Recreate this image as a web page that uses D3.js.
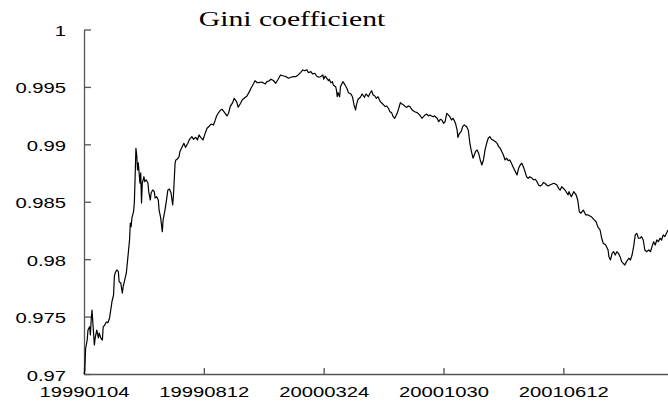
<!DOCTYPE html>
<html>
<head>
<meta charset="utf-8">
<script src="https://cdn.jsdelivr.net/npm/d3@7"></script>
<style>
  body { margin: 0; background: #fff; }
  svg { display: block; }
</style>
</head>
<body>
<svg></svg>
<script>
const size = {w: 668, h: 416};
const plot = {l: 84, r: 668, t: 29.5, b: 374};
const stretch = 1.35; // the original picture is stretched sideways

const title = 'Gini coefficient';

// x ticks: trading day index and its date label
const tickDays = [0, 150, 300, 450, 600];
const tickLabels = ['19990104', '19990812', '20000324', '20001030', '20010612'];
const yTicks = [0.97, 0.975, 0.98, 0.985, 0.99, 0.995, 1];
const lastDay = 731;

// [trading day, gini]
const giniSeries = [
  [0,0.9700],[1,0.9703],[2,0.9722],[4,0.97296],[5,0.97383],[7,0.97412],[8,0.9734],[9,0.9747],
  [10,0.97557],[13,0.97253],[14,0.97314],[16,0.97383],[18,0.97314],[19,0.97357],[21,0.97314],
  [23,0.97296],[24,0.97409],[26,0.97427],[28,0.97453],[30,0.97447],[32,0.97488],[33,0.97534],
  [35,0.9763],[37,0.97688],[38,0.97847],[39,0.9788],[41,0.97906],[43,0.97891],[44,0.97804],
  [46,0.97793],[48,0.97705],[49,0.9776],[51,0.97819],[53,0.9788],[55,0.98022],[57,0.98167],
  [58,0.98315],[59,0.98283],[60,0.98359],[62,0.98414],[63,0.98489],[64,0.98718],[65,0.98966],
  [66,0.98907],[67,0.98777],[68,0.98838],[70,0.98663],[71,0.98751],[72,0.98489],[73,0.98663],
  [75,0.98718],[76,0.98675],[78,0.9869],[80,0.98663],[81,0.98588],[83,0.98515],[84,0.98576],
  [86,0.98603],[88,0.98588],[89,0.98533],[91,0.98544],[93,0.98515],[94,0.98428],[96,0.98359],
  [98,0.98239],[99,0.98341],[101,0.98414],[103,0.98501],[105,0.98603],[107,0.98611],[109,0.98576],
  [111,0.98472],[112,0.98559],[114,0.98835],[115,0.98864],[117,0.98873],[119,0.98893],
  [120,0.98936],[122,0.98966],[125,0.99009],[127,0.98974],[130,0.99009],[132,0.99044],[135,0.99067],
  [137,0.99044],[140,0.99061],[142,0.99038],[144,0.99082],[146,0.99061],[149,0.99038],[151,0.99082],
  [154,0.9914],[157,0.9916],[159,0.99177],[162,0.99169],[164,0.99206],[166,0.99247],[168,0.99271],
  [171,0.99299],[173,0.99305],[176,0.99276],[179,0.99247],[181,0.99271],[183,0.99328],[186,0.99363],
  [188,0.99401],[191,0.99372],[193,0.99323],[196,0.99358],[198,0.99386],[202,0.9941],[204,0.99421],
  [207,0.99459],[209,0.99488],[212,0.99526],[214,0.99554],[217,0.99537],[219,0.99537],[222,0.99543],
  [224,0.99537],[227,0.99526],[229,0.99546],[232,0.99554],[234,0.99567],[237,0.99556],[240,0.99532],
  [243,0.99567],[246,0.99604],[250,0.99595],[253,0.99589],[256,0.99575],[259,0.99584],[262,0.99589],
  [265,0.99589],[268,0.99604],[271,0.99624],[274,0.99648],[276,0.99641],[279,0.99648],[281,0.99624],
  [284,0.99633],[286,0.99613],[289,0.99619],[291,0.99595],[294,0.99584],[296,0.99589],[299,0.99604],
  [300,0.99567],[302,0.99595],[304,0.99575],[306,0.99554],[307,0.99567],[309,0.99537],[311,0.99546],
  [312,0.99517],[315,0.99502],[316,0.99473],[317,0.99415],[318,0.9945],[320,0.99415],[321,0.99502],
  [324,0.99546],[326,0.99526],[329,0.99488],[331,0.9945],[334,0.99439],[336,0.99415],[338,0.99343],
  [340,0.99299],[341,0.99343],[343,0.99392],[346,0.9941],[348,0.99439],[351,0.9941],[353,0.99439],
  [356,0.99415],[358,0.99445],[360,0.99467],[362,0.9943],[364,0.99421],[366,0.99401],[368,0.99415],
  [371,0.99371],[373,0.99358],[375,0.99343],[377,0.99328],[379,0.99334],[381,0.99314],[383,0.99284],
  [385,0.99276],[387,0.99241],[389,0.99227],[392,0.9927],[394,0.99314],[396,0.99363],[398,0.99351],
  [400,0.99343],[402,0.99328],[404,0.99323],[406,0.99334],[408,0.99328],[410,0.99305],[412,0.99293],
  [414,0.99284],[417,0.99276],[419,0.99264],[421,0.99247],[423,0.99227],[425,0.99241],[427,0.99256],
  [429,0.99264],[431,0.99247],[433,0.99256],[435,0.99247],[437,0.99241],[439,0.99247],[442,0.99227],
  [444,0.99197],[446,0.99218],[448,0.99212],[450,0.99183],[452,0.99197],[454,0.9927],[456,0.99256],
  [458,0.99241],[460,0.99212],[462,0.99227],[465,0.99183],[467,0.99125],[468,0.99061],[470,0.99096],
  [472,0.9911],[474,0.99154],[476,0.99169],[479,0.99154],[481,0.99125],[483,0.99009],[485,0.98936],
  [487,0.98879],[490,0.98936],[492,0.98951],[494,0.98922],[496,0.98864],[498,0.9882],[500,0.98864],
  [502,0.98951],[504,0.99009],[506,0.99053],[508,0.99067],[510,0.99044],[512,0.99038],[515,0.99023],
  [517,0.99009],[519,0.9898],[521,0.98966],[523,0.98936],[525,0.98907],[527,0.98864],[529,0.98879],
  [531,0.98858],[533,0.98864],[535,0.98835],[537,0.98805],[540,0.98762],[542,0.98733],[544,0.98791],
  [546,0.9882],[548,0.98835],[550,0.98805],[552,0.98762],[554,0.98718],[556,0.98704],[558,0.98718],
  [561,0.98704],[563,0.9869],[565,0.98696],[567,0.98675],[569,0.98646],[571,0.98637],[573,0.98646],
  [575,0.98666],[577,0.98661],[579,0.98646],[581,0.98637],[583,0.98646],[586,0.98655],[588,0.98661],
  [590,0.98655],[592,0.98646],[594,0.98617],[596,0.98602],[598,0.98631],[602,0.98602],[606,0.98559],
  [607,0.98588],[610,0.98544],[613,0.98588],[616,0.98559],[618,0.98515],[620,0.98413],[622,0.984],
  [625,0.98428],[628,0.98385],[631,0.98385],[635,0.9837],[638,0.98347],[641,0.98326],[643,0.98283],
  [646,0.98254],[648,0.98182],[650,0.98138],[653,0.98123],[656,0.9808],[657,0.98022],[659,0.97993],
  [661,0.98051],[663,0.98065],[665,0.98036],[667,0.98065],[669,0.98051],[671,0.98022],[673,0.97978],
  [675,0.97964],[677,0.97949],[679,0.97978],[682,0.98008],[684,0.97993],[686,0.98036],[688,0.98109],
  [690,0.98211],[692,0.98225],[694,0.98182],[696,0.98182],[698,0.98196],[700,0.98167],[702,0.9808],
  [704,0.98065],[707,0.9808],[709,0.98065],[711,0.98109],[713,0.98152],[715,0.98123],[717,0.98167],
  [719,0.98152],[721,0.98182],[723,0.98167],[725,0.98211],[727,0.98196],[730,0.98239],[731,0.98254]
];

const svg = d3.select('svg')
    .attr('width', size.w)
    .attr('height', size.h);

let x = d3.scaleLinear().domain([0, lastDay]).range([plot.l, plot.r]);
let y = d3.scaleLinear().domain([0.97, 1]).range([plot.b, plot.t]);

// --------- AXES ----------
let xAxis = d3.axisBottom(x)
    .tickValues(tickDays)
    .tickFormat((d, i) => tickLabels[i])
    .tickSizeInner(-6)
    .tickSizeOuter(0);

let yAxis = d3.axisLeft(y)
    .tickValues(yTicks)
    .tickFormat(d => String(+d.toFixed(3)))
    .tickSizeInner(-7)
    .tickSizeOuter(0);

let xG = svg.append('g')
    .attr('transform', `translate(0, ${plot.b})`)
    .call(xAxis);

let yG = svg.append('g')
    .attr('transform', `translate(${plot.l}, 0)`)
    .call(yAxis);

[xG, yG].forEach(g => {
    g.select('.domain').attr('stroke', '#555').attr('stroke-width', 1.3);
    g.selectAll('.tick line').attr('stroke', '#555').attr('stroke-width', 1.3);
    g.selectAll('.tick text')
        .attr('fill', '#000')
        .style('font-family', '"Liberation Sans", Arial, sans-serif')
        .style('font-size', '15px');
});

// labels drawn wide like the original
xG.selectAll('.tick text')
    .attr('y', 23.5)
    .attr('dy', null)
    .attr('transform', `scale(${stretch}, 1)`);

yG.selectAll('.tick text')
    .attr('x', -18 / stretch)
    .attr('dy', 6)
    .attr('transform', `scale(${stretch}, 1)`);

// --------- LINE ----------
let line = d3.line()
    .x(d => x(d[0]))
    .y(d => y(d[1]));

svg.append('path')
    .datum(giniSeries)
    .attr('d', line)
    .attr('fill', 'none')
    .attr('stroke', '#000')
    .attr('stroke-width', 1.2)
    .attr('stroke-linejoin', 'round');

// --------- TITLE ----------
svg.append('text')
    .attr('transform', `translate(292, 26) scale(${stretch}, 1)`)
    .attr('text-anchor', 'middle')
    .style('font-family', '"Liberation Serif", "Times New Roman", serif')
    .style('font-size', '22px')
    .attr('fill', '#000')
    .text(title);
</script>
</body>
</html>
